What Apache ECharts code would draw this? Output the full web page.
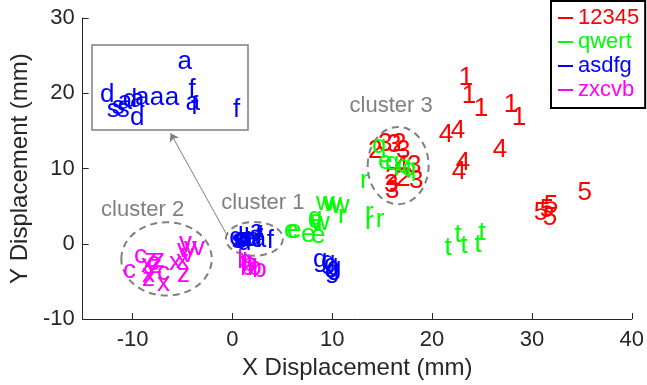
<!DOCTYPE html>
<html>
<head>
<meta charset="utf-8">
<script src="https://cdn.jsdelivr.net/npm/echarts@6/dist/echarts.min.js"></script>
<style>
  html, body { margin: 0; padding: 0; background: #fff; }
  #chart { width: 647px; height: 385px; }
</style>
</head>
<body>
<div id="chart"></div>
<script>
// series names (legend)
const names = ["12345", "qwert", "asdfg", "zxcvb"];
const colors = ["#ff0000", "#00ff00", "#0000ff", "#ff00ff"];

// points: [x, y, glyph]
const redPts = [
  [23.4, 22.0, "1"], [23.7, 19.7, "1"], [24.9, 17.9, "1"], [27.9, 18.4, "1"], [28.7, 16.7, "1"],
  [14.3, 12.4, "2"], [16.7, 13.3, "2"], [16.0, 8.8, "2"], [17.1, 8.7, "2"],
  [15.3, 13.3, "3"], [16.2, 13.2, "3"], [17.1, 12.4, "3"], [18.2, 10.4, "3"],
  [18.4, 8.4, "3"], [16.0, 7.1, "3"], [15.9, 7.9, "3"],
  [21.4, 14.5, "4"], [22.6, 15.0, "4"], [26.8, 12.5, "4"], [22.7, 9.6, "4"], [23.1, 10.7, "4"], [16.9, 10.4, "4"],
  [31.9, 5.1, "5"], [30.9, 4.1, "5"], [31.8, 3.4, "5"], [31.5, 4.5, "5"], [35.3, 6.8, "5"]
];
const greenPts = [
  [14.7, 13.0, "q"], [16.0, 10.7, "q"], [17.2, 10.3, "q"], [17.7, 10.0, "q"], [8.3, 3.4, "q"],
  [9.3, 5.4, "w"], [10.0, 5.3, "w"], [10.8, 5.0, "w"], [8.8, 2.8, "w"],
  [15.3, 10.9, "e"], [5.9, 1.7, "e"], [6.2, 1.7, "e"], [7.6, 1.2, "e"], [8.3, 3.0, "e"], [8.6, 1.1, "e"],
  [13.2, 8.4, "r"], [11.0, 3.7, "r"], [13.7, 4.1, "r"], [13.7, 2.9, "r"], [14.8, 3.2, "r"],
  [21.6, -0.5, "t"], [22.6, 1.2, "t"], [23.2, -0.3, "t"], [24.6, -0.1, "t"], [25.0, 1.4, "t"]
];
// blue points of cluster 1 (also shown in the inset)
const blueCluster1 = [
  [2.44, 1.70, "a"], [0.87, 0.62, "a"], [1.19, 0.67, "a"], [1.32, 0.73, "a"],
  [1.71, 0.73, "a"], [2.10, 0.73, "a"], [2.65, 0.59, "a"],
  [0.56, 0.39, "s"], [0.69, 0.48, "s"], [0.82, 0.39, "s"],
  [0.40, 0.81, "d"], [1.00, 0.67, "d"], [1.19, 0.17, "d"],
  [2.63, 0.95, "f"], [2.70, 0.48, "f"], [3.80, 0.39, "f"]
];
const bluePts = [
  [8.8, -2.1, "g"], [9.9, -2.8, "g"], [10.0, -3.6, "g"], [10.2, -3.2, "g"], [9.6, -2.4, "g"]
];
const magentaPts = [
  [-10.3, -3.6, "c"], [-9.2, -1.6, "c"], [-6.9, -3.8, "c"], [-7.9, -2.5, "c"],
  [-8.5, -2.8, "x"], [-8.4, -4.1, "x"], [-6.9, -5.3, "x"], [-5.7, -2.5, "x"], [-5.0, -2.2, "x"],
  [-8.2, -2.1, "z"], [-7.4, -2.1, "z"], [-8.4, -4.7, "z"], [-4.9, -4.1, "z"], [-7.7, -2.9, "z"],
  [-4.9, -0.8, "v"], [-4.5, -1.4, "v"], [-4.2, -0.5, "v"], [-3.4, -0.5, "v"], [-4.7, 0.1, "v"],
  [1.2, -2.2, "b"], [1.7, -2.6, "b"], [2.2, -3.2, "b"], [1.5, -3.2, "b"], [2.7, -3.4, "b"]
];

// dashed cluster outlines: [cx, cy, rx, ry] in data units
const clusterRings = [
  [2.2, 0.66, 2.86, 2.24],
  [-6.6, -2.0, 4.53, 4.87],
  [16.6, 10.4, 3.05, 5.13]
];
const clusterLabels = [
  [3.05, 5.4, "cluster 1"], [-9.0, 4.5, "cluster 2"], [15.9, 18.3, "cluster 3"]
];
const arrowFrom = [-0.6, 1.3];
const arrowTo = [-6.2, 14.7];

const xTicks = [-10, 0, 10, 20, 30, 40];
const yTicks = [-10, 0, 10, 20, 30];

const FONT = "Liberation Sans";
const axisColor = "#262626";

function toItems(pts) {
  return pts.map(function (p) { return { value: [p[0], p[1]], name: p[2] }; });
}

function glyphSeries(name, color, pts, axisIdx) {
  return {
    name: name,
    type: "scatter",
    xAxisIndex: axisIdx,
    yAxisIndex: axisIdx,
    symbol: "circle",
    symbolSize: 0.01,
    itemStyle: { color: color, opacity: 1 },
    label: {
      show: true,
      position: "inside",
      formatter: "{b}",
      color: color,
      opacity: 1,
      fontFamily: FONT,
      fontSize: 26
    },
    data: toItems(pts),
    z: 3
  };
}

const chart = echarts.init(document.getElementById("chart"));

const option = {
  animation: false,
  backgroundColor: "#fff",
  grid: [
    { left: 76, right: 13, top: 18, bottom: 63 },
    { left: 92, top: 45, width: 156, height: 85, show: true,
      backgroundColor: "#fff", borderColor: "#808080", borderWidth: 1.5 }
  ],
  legend: {
    data: names.map(function (n, i) {
      return { name: n, textStyle: { color: colors[i] } };
    }),
    orient: "vertical",
    left: 551,
    top: 1,
    icon: "rect",
    itemWidth: 15,
    itemHeight: 2,
    itemGap: 2,
    padding: [6, 6, 7, 7],
    borderColor: "#000",
    borderWidth: 2,
    backgroundColor: "#fff",
    textStyle: { fontFamily: FONT, fontSize: 22, lineHeight: 22 }
  },
  xAxis: [
    {
      type: "value",
      gridIndex: 0,
      min: -15,
      max: 40,
      name: "X Displacement (mm)",
      nameLocation: "middle",
      nameGap: 36,
      nameTextStyle: { fontFamily: FONT, fontSize: 24, color: axisColor },
      axisLine: { show: true, onZero: false, lineStyle: { color: axisColor, width: 1 } },
      axisTick: { show: true, inside: true, length: 6, customValues: xTicks,
        lineStyle: { color: axisColor } },
      axisLabel: { customValues: xTicks, fontFamily: FONT, fontSize: 22,
        color: axisColor, margin: 10 },
      splitLine: { show: false }
    },
    {
      type: "value",
      gridIndex: 1,
      min: 0,
      max: 4.1,
      show: false,
      splitLine: { show: false }
    }
  ],
  yAxis: [
    {
      type: "value",
      gridIndex: 0,
      min: -10,
      max: 30,
      name: "Y Displacement (mm)",
      nameLocation: "middle",
      nameGap: 48,
      nameTextStyle: { fontFamily: FONT, fontSize: 24, color: axisColor },
      axisLine: { show: true, onZero: false, lineStyle: { color: axisColor, width: 1 } },
      axisTick: { show: true, inside: true, length: 6, customValues: yTicks,
        lineStyle: { color: axisColor } },
      axisLabel: { customValues: yTicks, fontFamily: FONT, fontSize: 22,
        color: axisColor, margin: 8 },
      splitLine: { show: false }
    },
    {
      type: "value",
      gridIndex: 1,
      min: -0.15,
      max: 2.15,
      show: false,
      splitLine: { show: false }
    }
  ],
  series: [
    {
      name: "rings",
      type: "custom",
      xAxisIndex: 0,
      yAxisIndex: 0,
      silent: true,
      z: 1,
      renderItem: function (params, api) {
        const c = api.coord([api.value(0), api.value(1)]);
        const s = api.size([api.value(2), api.value(3)]);
        return {
          type: "ellipse",
          shape: { cx: c[0], cy: c[1], rx: s[0], ry: s[1] },
          style: { fill: "none", stroke: "#808080", lineWidth: 2, lineDash: [7, 5] }
        };
      },
      data: clusterRings
    },
    {
      name: "labels",
      type: "scatter",
      xAxisIndex: 0,
      yAxisIndex: 0,
      symbolSize: 0.01,
      silent: true,
      itemStyle: { color: "#808080", opacity: 1 },
      label: {
        show: true,
        position: "inside",
        formatter: "{b}",
        color: "#808080",
        fontFamily: FONT,
        fontSize: 22
      },
      data: toItems(clusterLabels),
      markLine: {
        silent: true,
        symbol: ["none", "arrow"],
        symbolSize: 8,
        label: { show: false },
        lineStyle: { color: "#808080", width: 1, type: "solid", opacity: 1 },
        data: [[{ coord: arrowFrom }, { coord: arrowTo }]]
      }
    },
    glyphSeries(names[0], colors[0], redPts, 0),
    glyphSeries(names[1], colors[1], greenPts, 0),
    glyphSeries(names[2], colors[2], blueCluster1.concat(bluePts), 0),
    glyphSeries(names[3], colors[3], magentaPts, 0),
    glyphSeries(names[2], colors[2], blueCluster1, 1)
  ]
};

chart.setOption(option);
</script>
</body>
</html>
